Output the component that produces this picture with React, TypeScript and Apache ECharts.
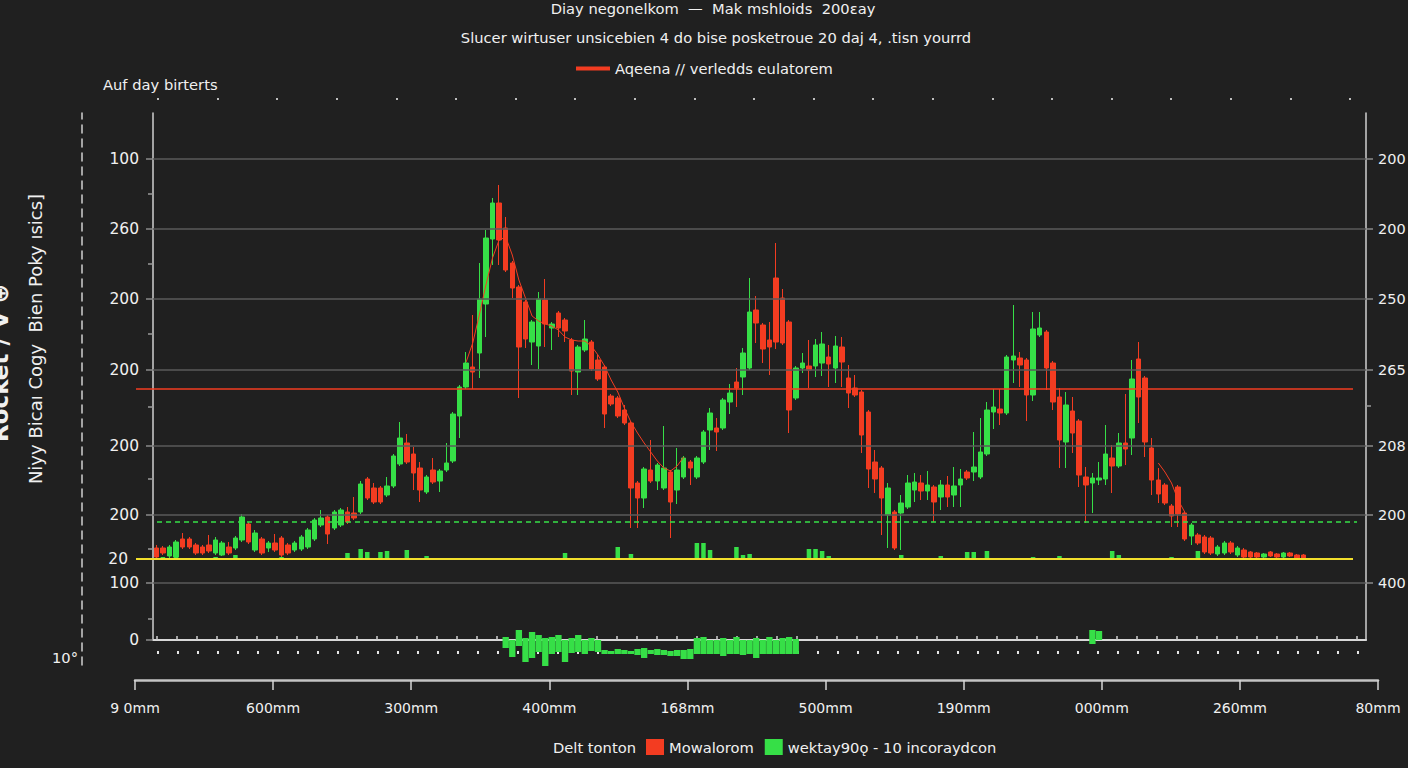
import React, { useEffect, useRef } from 'react';
import * as echarts from 'echarts';

const FONT = '"DejaVu Sans", sans-serif';
const BG = '#202020';
const RED = '#f33c21';
const GREEN = '#36df47';
const YELLOW = '#f2df2c';
const TEXT = '#f0f0f0';
const GRIDLINE = '#5a5a5a';

const CATEGORY_COUNT = 184;
const categories = Array.from({ length: CATEGORY_COUNT }, (_, i) => `D${i + 1}`);

// candles: [open, close, low, high]
const candles: number[][] = [
  [92, 83, 81, 95], [92, 87, 85, 94], [84, 93, 82, 95], [83, 98, 82, 100], [101, 93, 91, 107],
  [101, 93, 91, 103], [95, 87, 85, 97], [93, 87, 85, 95], [95, 89, 87, 105], [87, 100, 85, 103],
  [85, 97, 84, 99], [93, 87, 85, 98], [92, 102, 90, 104], [100, 123, 98, 126], [116, 98, 96, 118],
  [90, 107, 88, 110], [101, 87, 85, 103], [92, 97, 88, 99], [97, 90, 88, 106], [102, 85, 83, 104],
  [95, 87, 85, 97], [90, 97, 88, 99], [91, 103, 89, 105], [93, 110, 91, 112], [101, 120, 99, 122],
  [115, 122, 113, 130], [123, 106, 96, 125], [112, 128, 110, 130], [115, 130, 113, 132], [128, 118, 116, 133],
  [127, 122, 120, 143], [128, 156, 126, 159], [161, 142, 140, 163], [152, 138, 136, 157], [152, 138, 136, 154],
  [145, 154, 143, 163], [154, 184, 152, 186], [176, 202, 174, 218], [197, 178, 176, 206], [186, 167, 150, 193],
  [172, 150, 138, 178], [148, 163, 146, 165], [170, 158, 156, 182], [159, 169, 148, 171], [170, 177, 168, 197],
  [179, 226, 177, 228], [224, 253, 202, 255], [253, 277, 251, 288], [273, 268, 251, 325], [287, 341, 262, 377],
  [336, 402, 303, 410], [401, 437, 375, 442], [437, 400, 375, 455], [412, 370, 368, 423], [377, 352, 342, 379],
  [353, 293, 242, 355], [338, 301, 292, 340], [298, 318, 275, 320], [294, 341, 271, 348], [340, 316, 293, 361],
  [312, 316, 290, 318], [327, 312, 303, 329], [320, 309, 298, 322], [300, 269, 245, 302], [268, 293, 245, 295],
  [290, 301, 288, 320], [298, 271, 269, 300], [280, 261, 259, 285], [273, 226, 212, 275], [244, 236, 234, 246],
  [242, 224, 222, 244], [230, 217, 215, 235], [217, 152, 112, 219], [157, 142, 112, 159], [142, 171, 132, 173],
  [170, 159, 157, 200], [159, 175, 150, 177], [152, 172, 150, 214], [168, 138, 102, 170], [150, 170, 136, 192],
  [163, 182, 161, 184], [178, 172, 155, 180], [163, 182, 161, 184], [178, 208, 176, 210], [210, 227, 190, 232],
  [212, 208, 189, 222], [212, 240, 210, 242], [238, 247, 226, 256], [258, 252, 233, 272], [263, 287, 245, 292],
  [272, 328, 270, 362], [330, 317, 297, 344], [315, 291, 277, 317], [300, 293, 265, 318], [362, 298, 291, 397],
  [342, 297, 295, 351], [318, 230, 207, 320], [242, 272, 240, 274], [272, 277, 267, 287], [274, 270, 252, 300],
  [274, 295, 263, 301], [277, 296, 264, 308], [283, 276, 253, 295], [272, 294, 257, 304], [293, 278, 253, 303],
  [262, 247, 232, 275], [252, 245, 243, 265], [248, 205, 187, 250], [228, 171, 152, 230], [178, 161, 147, 190],
  [172, 142, 105, 174], [125, 152, 92, 157], [128, 92, 90, 130], [127, 137, 90, 145], [133, 157, 131, 165],
  [150, 158, 138, 167], [157, 149, 140, 165], [149, 155, 140, 169], [153, 138, 118, 155], [143, 155, 130, 160],
  [155, 143, 133, 164], [145, 154, 133, 173], [155, 161, 133, 171], [168, 162, 160, 170], [168, 173, 159, 208],
  [163, 188, 161, 222], [186, 230, 184, 238], [228, 233, 211, 251], [231, 227, 215, 251], [227, 283, 225, 285],
  [280, 284, 257, 335], [282, 275, 253, 288], [280, 245, 219, 282], [245, 311, 239, 328], [305, 312, 303, 328],
  [308, 272, 250, 310], [277, 238, 230, 279], [243, 200, 172, 252], [198, 235, 172, 248], [229, 207, 187, 243],
  [219, 165, 153, 221], [163, 155, 117, 173], [157, 162, 127, 167], [160, 162, 155, 178], [161, 186, 155, 215],
  [182, 174, 147, 195], [174, 197, 172, 207], [197, 191, 175, 246], [202, 261, 185, 280], [281, 243, 217, 298],
  [262, 198, 183, 264], [192, 160, 145, 202], [160, 146, 137, 172], [155, 137, 135, 157], [134, 124, 113, 136],
  [153, 126, 113, 155], [127, 101, 99, 129], [104, 115, 95, 117], [105, 97, 95, 107], [103, 88, 86, 105],
  [102, 87, 85, 104], [86, 93, 84, 95], [87, 97, 85, 99], [97, 88, 86, 99], [85, 92, 83, 94],
  [90, 83, 82, 92], [88, 83, 82, 89], [87, 83, 82, 88], [83, 86, 82, 87], [88, 84, 83, 89],
  [86, 83, 82, 87], [83, 87, 82, 88], [87, 84, 83, 88], [85, 82, 81, 86], [85, 82, 81, 86],
];

// moving-average segments
const ma1Start = 47;
const ma1 = [278, 297, 325, 355, 382, 400, 403, 385, 360, 342, 324, 319, 316, 314, 310, 303, 300, 299, 299, 294,
  285, 274, 260, 248, 232, 218, 207, 197, 188, 179, 172, 169, 174, 183];
const ma2Start = 152;
const ma2 = [177, 168, 157, 140, 128];

// volume bars: [category index, height]
const volumeBars = [[1, 2], [3, 3], [6, 1], [9, 2], [12, 4], [15, 1], [19, 2], [24, 1], [29, 6], [31, 10], [32, 7],
  [34, 7], [35, 8], [38, 9], [41, 3], [45, 1], [49, 1], [55, 1], [58, 1], [62, 6], [65, 1], [70, 12], [72, 5],
  [76, 1], [79, 1], [82, 16], [83, 16], [84, 9], [86, 1], [88, 12], [89, 4], [90, 5], [93, 1], [96, 1], [99, 10],
  [100, 10], [101, 8], [102, 3], [106, 1], [110, 1], [113, 4], [116, 1], [119, 3], [121, 1], [123, 7], [124, 7],
  [126, 8], [129, 1], [133, 2], [137, 3], [140, 1], [145, 8], [146, 4], [150, 1], [154, 2], [158, 8], [162, 1],
  [166, 1], [170, 1]];

// lower panel bars
const panelStart = 53;
const panelUp = [3, 0, 12, 2, 8, 5, 2, 3, 5, 0, 2, 5, 0, 2, 0,
  0, 0, 0, 0, 0, 0, 0, 0, 0, 0, 0, 0, 0, 0,
  2, 3, 0, 0, 2, 0, 3, 0, 0, 2, 0, 3, 0, 2, 3, 1];
const panelGap = [0, 0, 0, 0, 0, 0, 0, 0, 0, 0, 0, 0, 0, 0, 0,
  -10, -11, -9, -10, -11, -9, -8, -10, -9, -10, -11, -10, -10, -9,
  0, 0, 0, 0, 0, 0, 0, 0, 0, 0, 0, 0, 0, 0, 0, 0];
const panelDown = [-8, -17, -6, -22, -18, -12, -26, -14, -12, -22, -13, -12, -14, -11, -12,
  -4, -3, -5, -4, -3, -6, -10, -4, -6, -5, -5, -6, -9, -10,
  -14, -14, -14, -14, -16, -14, -14, -15, -14, -18, -14, -14, -14, -14, -14, -14];
const panel2Start = 142;
const panel2Up = [13, 9];
const panel2Down = [-4, 0];

// axes
const leftTickValues = [0, 57, 125, 194, 270, 341, 411, 481];
const leftTickLabels = ['0', '100', '200', '200', '200', '200', '260', '100'];
const rightTickValues = [57, 125, 194, 270, 341, 411, 481];
const rightTickLabels = ['400', '200', '208', '265', '250', '200', '200'];
const leftMinorTicks = [21, 91, 161, 233, 306, 376, 446];
const rightMinorTicks = [234];
const gridLineValues = [57, 125, 194, 270, 341, 411, 481];
const bottomLabels = ['9 0mm', '600mm', '300mm', '400mm', '168mm', '500mm', '190mm', '000mm', '260mm', '80mm'];

const redLevel = 251;
const yellowLevel = 81;
const greenLevel = 118;

const MA_NAME = 'Aqeena // verledds eulatorem';
const CANDLE_NAME = 'Mowalorom';
const PANEL_NAME = 'wektay90ǫ - 10 incoraydcon';

function spread(parts: [number, number[]][]) {
  const arr: (number | string)[] = new Array(CATEGORY_COUNT).fill('-');
  parts.forEach(([start, vals]) => vals.forEach((v, k) => { arr[start + k] = v; }));
  return arr;
}

const txt = (extra: any = {}) => ({ color: TEXT, fontSize: 14, fontFamily: FONT, ...extra });

function textEl(text: string, x: number, y: number, align: string, extra: any = {}) {
  return {
    type: 'text', x, y, silent: true,
    ...extra.el,
    style: {
      text, fill: TEXT, fontSize: 14.7, fontFamily: FONT,
      align, textAlign: align, verticalAlign: 'middle', textVerticalAlign: 'middle',
      ...extra.style,
    },
  };
}

function buildOption() {
  const g = (o: any) => ({ outerBoundsMode: 'none', containLabel: false, ...o });
  const hiddenX = (gridIndex: number, extra: any = {}) => ({ gridIndex, show: false, ...extra });
  const hiddenY = (gridIndex: number, extra: any = {}) => ({ type: 'value', gridIndex, show: false, ...extra });

  return {
    animation: false,
    backgroundColor: BG,
    textStyle: { fontFamily: FONT },
    grid: [
      g({ left: 153, right: 42, top: 113, bottom: 128 }), // 0 main
      g({ left: 153, right: 42, top: 113, bottom: 209 }), // 1 volume
      g({ left: 136, right: 55, top: 113, bottom: 128 }), // 2 red/yellow levels
      g({ left: 157, right: 51, top: 113, bottom: 128 }), // 3 green dashed
      g({ left: 153, right: 42, top: 630, bottom: 98 }), // 4 lower panel
      g({ left: 157, right: 51, top: 113, bottom: 128 }), // 5 minor ticks of main x axis
      g({ left: 158, right: 50, top: 600, bottom: 117 }), // 6 dot row
      g({ left: 158, right: 58, top: 60, bottom: 670 }), // 7 top dot row
      g({ left: 135, right: 30, top: 600, bottom: 88 }), // 8 bottom axis
      g({ left: 82, right: 1316, top: 113, bottom: 103 }), // 9 dashed line
    ],
    xAxis: [
      {
        type: 'category', gridIndex: 0, data: categories, boundaryGap: true,
        axisLine: { show: true, onZero: false, lineStyle: { color: '#d8d8d8', width: 2 } },
        axisTick: { show: false }, axisLabel: { show: false }, splitLine: { show: false },
      },
      hiddenX(1, { type: 'category', data: categories }),
      hiddenX(2, { type: 'value', min: 0, max: 1 }),
      hiddenX(3, { type: 'value', min: 0, max: 1 }),
      hiddenX(4, { type: 'category', data: categories }),
      {
        type: 'value', gridIndex: 5, min: 0, max: 1200, interval: 20,
        axisLine: { show: false, onZero: false },
        axisTick: { show: true, inside: true, length: 4, lineStyle: { color: '#cfcfcf', width: 1.5 } },
        axisLabel: { show: false }, splitLine: { show: false },
      },
      {
        type: 'value', gridIndex: 6, min: 0, max: 1200, interval: 20,
        axisLine: { show: false, onZero: false },
        axisTick: { show: true, length: 3, lineStyle: { color: '#e6e6e6', width: 2 } },
        axisLabel: { show: false }, splitLine: { show: false },
      },
      {
        type: 'value', gridIndex: 7, min: 0, max: 20, interval: 1,
        axisLine: { show: false, onZero: false },
        axisTick: { show: true, length: 2, lineStyle: { color: '#bdbdbd', width: 2 } },
        axisLabel: { show: false }, splitLine: { show: false },
      },
      {
        type: 'value', gridIndex: 8, min: 0, max: 9, interval: 1,
        axisLine: { show: true, onZero: false, lineStyle: { color: '#c4c4c4', width: 2.5 } },
        axisTick: { show: true, length: 10, lineStyle: { color: '#d4d4d4', width: 1.5 } },
        axisLabel: {
          show: true, margin: 21, ...txt(),
          formatter: (v: number) => bottomLabels[Math.round(v)] ?? '',
        },
        splitLine: { show: false },
      },
      hiddenX(9, { type: 'value', min: 0, max: 1 }),
    ],
    yAxis: [
      {
        type: 'value', gridIndex: 0, position: 'left', min: 0, max: 527,
        axisLine: { show: true, onZero: false, lineStyle: { color: '#cfcfcf', width: 1.5 } },
        axisTick: { show: true, length: 7, customValues: leftTickValues, lineStyle: { color: '#8a8a8a', width: 1.5 } },
        axisLabel: {
          show: true, margin: 14, customValues: leftTickValues, ...txt({ fontSize: 15.5 }),
          formatter: (v: number) => leftTickLabels[leftTickValues.indexOf(v)] ?? '',
        },
        splitLine: { show: false },
      },
      {
        type: 'value', gridIndex: 0, position: 'left', min: 0, max: 527,
        axisLine: { show: false, onZero: false },
        axisTick: { show: true, length: 5, customValues: leftMinorTicks, lineStyle: { color: '#9a9a9a', width: 1.5 } },
        axisLabel: { show: false }, splitLine: { show: false },
      },
      {
        type: 'value', gridIndex: 0, position: 'right', min: 0, max: 527,
        axisLine: { show: true, onZero: false, lineStyle: { color: '#cfcfcf', width: 1.5 } },
        axisTick: { show: true, length: 7, customValues: rightTickValues, lineStyle: { color: '#8a8a8a', width: 1.5 } },
        axisLabel: {
          show: true, margin: 12, customValues: rightTickValues, ...txt({ fontSize: 14.5 }),
          formatter: (v: number) => rightTickLabels[rightTickValues.indexOf(v)] ?? '',
        },
        splitLine: { show: false },
      },
      {
        type: 'value', gridIndex: 0, position: 'right', min: 0, max: 527,
        axisLine: { show: false, onZero: false },
        axisTick: { show: true, length: 5, customValues: rightMinorTicks, lineStyle: { color: '#9a9a9a', width: 1.5 } },
        axisLabel: { show: false }, splitLine: { show: false },
      },
      hiddenY(1, { min: 0, max: 446 }),
      hiddenY(2, { min: 0, max: 527 }),
      hiddenY(3, { min: 0, max: 527 }),
      hiddenY(4, { min: -30, max: 10 }),
      hiddenY(5, { min: 0, max: 1 }),
      hiddenY(6, { min: 0, max: 1 }),
      hiddenY(7, { min: 0, max: 1 }),
      hiddenY(8, { min: 0, max: 1 }),
      {
        type: 'value', gridIndex: 9, position: 'left', min: 0, max: 1,
        axisLine: { show: true, onZero: false, lineStyle: { color: '#cfcfcf', width: 1.5, type: [8, 6] } },
        axisTick: { show: false }, axisLabel: { show: false }, splitLine: { show: false },
      },
    ],
    legend: [
      {
        data: [{ name: MA_NAME, icon: 'rect', itemStyle: { color: RED } }],
        left: 576, top: 61, padding: 0, itemWidth: 34, itemHeight: 4, selectedMode: false,
        textStyle: txt({ fontSize: 14.7 }),
      },
      {
        data: [
          { name: CANDLE_NAME, icon: 'rect', itemStyle: { color: RED, borderWidth: 0 } },
          { name: PANEL_NAME, icon: 'rect', itemStyle: { color: GREEN, borderWidth: 0 } },
        ],
        left: 646, top: 739, padding: 0, itemWidth: 18, itemHeight: 16, itemGap: 11, selectedMode: false,
        textStyle: txt({ fontSize: 14.7 }),
      },
    ],
    graphic: [
      textEl('Diay negonelkom  —  Mak mshloids  200ɛay', 713, 8, 'center'),
      textEl('Slucer wirtuser unsicebien 4 do bise posketroue 20 daj 4, .tisn yourrd', 716, 37, 'center'),
      textEl('Auf day birterts', 103, 84, 'left'),
      textEl('Niyy Bicaı Cogy  Bien Poky ısics]', 35, 339, 'center', { el: { rotation: Math.PI / 2 }, style: { fontSize: 18 } }),
      textEl('Rocket / V ⊕', 0, 363, 'center', { el: { rotation: Math.PI / 2 }, style: { fontSize: 23, fontWeight: 'bold' } }),
      textEl('10°', 52, 657, 'left'),
      textEl('Delt tonton', 553, 747, 'left'),
    ],
    series: [
      {
        name: 'grid-lines', type: 'line', xAxisIndex: 0, yAxisIndex: 0, data: [], silent: true, z: 1,
        markLine: {
          symbol: 'none', silent: true, label: { show: false },
          lineStyle: { color: GRIDLINE, width: 1.5, type: 'solid' },
          data: gridLineValues.map((v) => ({ yAxis: v })),
        },
      },
      {
        name: 'volume', type: 'bar', xAxisIndex: 1, yAxisIndex: 4, data: volumeBars,
        barWidth: 4.5, itemStyle: { color: GREEN }, z: 2, silent: true,
      },
      {
        name: CANDLE_NAME, type: 'candlestick', xAxisIndex: 0, yAxisIndex: 0, data: candles,
        barWidth: 5, z: 3,
        itemStyle: { color: GREEN, color0: RED, borderColor: GREEN, borderColor0: RED, borderWidth: 1 },
      },
      {
        name: MA_NAME, type: 'line', xAxisIndex: 0, yAxisIndex: 0, color: RED, z: 4,
        data: ma1.map((v, k) => [ma1Start + k, v]),
        showSymbol: false, symbol: 'none', lineStyle: { color: RED, width: 1 },
      },
      {
        name: MA_NAME, type: 'line', xAxisIndex: 0, yAxisIndex: 0, color: RED, z: 4,
        data: ma2.map((v, k) => [ma2Start + k, v]),
        showSymbol: false, symbol: 'none', lineStyle: { color: RED, width: 1 },
      },
      {
        name: 'levels', type: 'line', xAxisIndex: 2, yAxisIndex: 5, data: [], silent: true, z: 5,
        markLine: {
          symbol: 'none', silent: true,
          data: [
            { yAxis: redLevel, lineStyle: { color: RED, width: 1.5, type: 'solid' }, label: { show: false } },
            {
              yAxis: yellowLevel, lineStyle: { color: YELLOW, width: 2, type: 'solid' },
              label: { show: true, position: 'start', distance: 8, formatter: '20', ...txt({ fontSize: 15.5 }) },
            },
          ],
        },
      },
      {
        name: 'dashed-level', type: 'line', xAxisIndex: 3, yAxisIndex: 6, data: [], silent: true, z: 5,
        markLine: {
          symbol: 'none', silent: true, label: { show: false },
          lineStyle: { color: GREEN, width: 1.5, type: [5, 4] },
          data: [{ yAxis: greenLevel }],
        },
      },
      {
        name: PANEL_NAME, type: 'bar', xAxisIndex: 4, yAxisIndex: 7, stack: 'panel', barWidth: '96%',
        itemStyle: { color: GREEN }, color: GREEN,
        data: spread([[panelStart, panelUp], [panel2Start, panel2Up]]),
      },
      {
        name: 'panel-gap', type: 'bar', xAxisIndex: 4, yAxisIndex: 7, stack: 'panel', barWidth: '96%', silent: true,
        itemStyle: { color: 'rgba(0,0,0,0)' },
        data: spread([[panelStart, panelGap]]),
      },
      {
        name: PANEL_NAME, type: 'bar', xAxisIndex: 4, yAxisIndex: 7, stack: 'panel', barWidth: '96%',
        itemStyle: { color: GREEN }, color: GREEN,
        data: spread([[panelStart, panelDown], [panel2Start, panel2Down]]),
      },
    ],
  };
}

export default function App() {
  const ref = useRef<HTMLDivElement>(null);
  useEffect(() => {
    document.body.style.margin = '0';
    document.body.style.background = BG;
    const chart = echarts.init(ref.current as HTMLDivElement, undefined, { renderer: 'svg' });
    chart.setOption(buildOption() as any);
    return () => chart.dispose();
  }, []);
  return <div ref={ref} style={{ width: 1408, height: 768 }} />;
}
